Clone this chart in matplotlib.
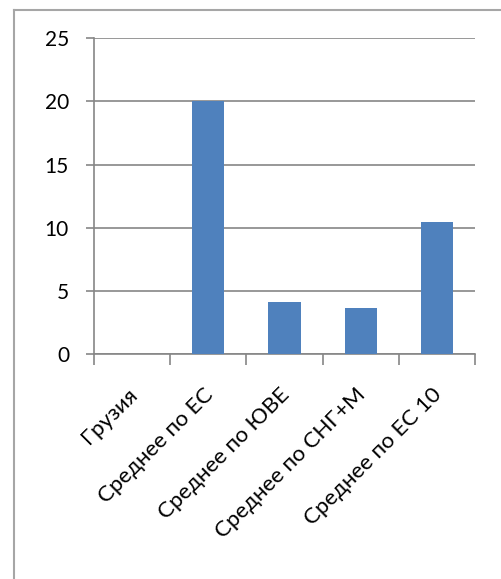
import numpy as np
import matplotlib.pyplot as plt
from matplotlib.lines import Line2D
from matplotlib.transforms import ScaledTranslation

categories = ['Грузия', 'Среднее по ЕС', 'Среднее по ЮВЕ', 'Среднее по СНГ+М', 'Среднее по ЕС 10']
values = [0.0, 20.0, 4.13, 3.66, 10.43]
y_ticks = [0, 5, 10, 15, 20, 25]

plt.rcParams['font.family'] = ['Lato', 'DejaVu Sans']

fig = plt.figure(figsize=(5.01, 5.79), dpi=100)
ax = fig.add_axes([94 / 501, 1 - 354.3 / 579, 381 / 501, 316.3 / 579])

x = np.arange(len(categories))
ax.bar(x, values, width=0.42, color='#4F81BD', zorder=3)

ax.set_xlim(-0.5, len(categories) - 0.5)
ax.set_ylim(0, 25)
ax.set_yticks(y_ticks)
ax.set_yticklabels([str(t) for t in y_ticks], fontsize=15)

grid_col = '#868686'
ax.yaxis.grid(True, color=grid_col, linewidth=1.2, zorder=0)
ax.tick_params(axis='y', length=6, width=1.2, color=grid_col, pad=12)

# category labels at centres, tick marks at category boundaries
ax.set_xticks(x)
ax.set_xticklabels(categories, rotation=45, ha='right', va='center',
                   rotation_mode='anchor', fontsize=16)
ax.tick_params(axis='x', which='major', length=0, pad=27)
shift = ScaledTranslation(2 / 100, 0, fig.dpi_scale_trans)
for lbl in ax.get_xticklabels():
    lbl.set_transform(lbl.get_transform() + shift)
ax.set_xticks(np.arange(-0.5, len(categories)), minor=True)
ax.tick_params(axis='x', which='minor', length=8, width=1.2, color=grid_col)

for side in ['top', 'right']:
    ax.spines[side].set_visible(False)
for side in ['left', 'bottom']:
    ax.spines[side].set_color(grid_col)
    ax.spines[side].set_linewidth(1.2)

# chart-area frame, clipped by the figure edges
frame_col = '#A6A6A6'
fig.add_artist(Line2D([14 / 501, 14 / 501], [0, 1 - 10 / 579],
                      transform=fig.transFigure, color=frame_col, linewidth=1.5))
fig.add_artist(Line2D([14 / 501, 1], [1 - 10 / 579, 1 - 10 / 579],
                      transform=fig.transFigure, color=frame_col, linewidth=1.5))

fig.savefig('out.png', dpi=100)
